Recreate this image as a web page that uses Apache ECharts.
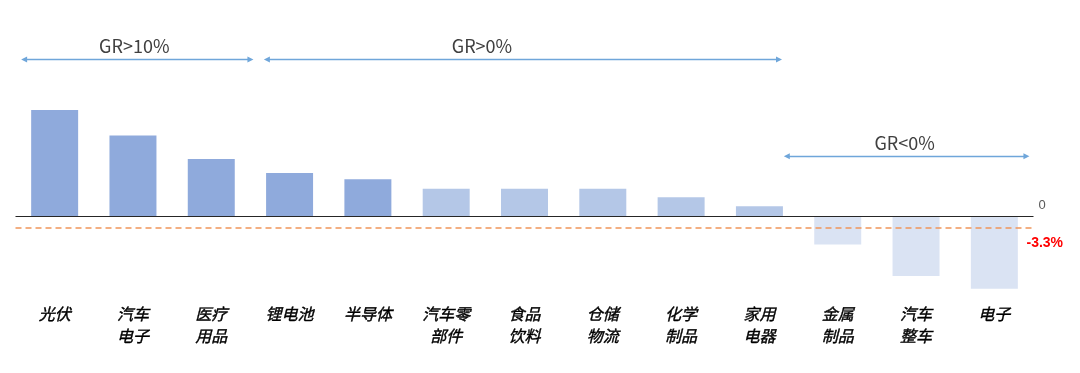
<!DOCTYPE html>
<html>
<head>
<meta charset="utf-8">
<script src="https://cdn.jsdelivr.net/npm/echarts@6/dist/echarts.min.js"></script>
<style>html,body{margin:0;padding:0;background:#fff}#c{width:1080px;height:373px}</style>
</head>
<body>
<div id="c"></div>
<script>
const categories = ['光伏','汽车\n电子','医疗\n用品','锂电池','半导体','汽车零\n部件','食品\n饮料','仓储\n物流','化学\n制品','家用\n电器','金属\n制品','汽车\n整车','电子'];
const values = [30.8, 23.4, 16.6, 12.5, 10.7, 8.0, 8.0, 8.0, 5.5, 2.9, -8.2, -17.3, -21.0];
const averageValue = -3.3;
const zeroLabel = '0';
const groupNames = ['GR>10%', 'GR>0%', 'GR<0%'];
const groupFrom = [-0.39, 2.71, 9.35];
const groupTo = [2.50, 9.25, 12.41];
const groupLevel = [45.4, 45.4, 17.4];
const groupLabelShift = [-3, -41, -2];

const chart = echarts.init(document.getElementById('c'), null, {renderer: 'canvas'});

const arrowLines = groupNames.map((name, i) => [
  {
    coord: [groupFrom[i], groupLevel[i]],
    label: {
      show: true, formatter: name, position: 'insideMiddleTop', distance: 4,
      offset: [groupLabelShift[i], 0],
      color: '#404040', fontSize: 18, fontFamily: 'Noto Sans CJK SC'
    }
  },
  { coord: [groupTo[i], groupLevel[i]] }
]);

chart.setOption({
  animation: false,
  backgroundColor: '#fff',
  grid: { left: 15.5, right: 46.5, top: 43.55, bottom: 80.7, containLabel: false, outerBoundsMode: 'none' },
  xAxis: [
    {
      type: 'category',
      data: categories,
      axisLine: { show: false, onZero: false },
      axisTick: { show: false },
      axisLabel: {
        interval: 0, margin: 11, color: '#000', fontSize: 16, lineHeight: 22,
        fontStyle: 'italic', fontFamily: 'Noto Sans CJK SC',
        textBorderColor: '#000', textBorderWidth: 0.4
      },
      splitLine: { show: false }
    },
    { type: 'value', min: -0.5, max: 12.5, show: false }
  ],
  yAxis: { type: 'value', min: -22, max: 50, show: false, splitLine: { show: false } },
  series: [
    {
      type: 'bar',
      data: values,
      barWidth: '60%',
      itemStyle: {
        color: p => p.value < 0 ? '#DAE3F3' : (p.dataIndex < 5 ? '#8FAADC' : '#B4C7E7')
      },
      markLine: {
        silent: true,
        symbol: 'none',
        data: [
          {
            yAxis: 0,
            lineStyle: { color: '#262626', width: 1.2, type: 'solid' },
            label: { show: true, position: 'end', formatter: zeroLabel, offset: [0, -11],
              color: '#595959', fontSize: 13, fontFamily: 'Liberation Sans' }
          },
          {
            yAxis: averageValue,
            lineStyle: { color: '#F0955A', width: 1.5, type: [6, 4] },
            label: { show: true, position: 'end', formatter: averageValue + '%', offset: [-12, 15],
              color: '#FF0000', fontSize: 14, fontWeight: 'bold', fontFamily: 'Liberation Sans' }
          }
        ]
      }
    },
    {
      type: 'line',
      xAxisIndex: 1,
      yAxisIndex: 0,
      data: [],
      markLine: {
        silent: true,
        symbol: ['triangle', 'triangle'],
        symbolSize: 6,
        lineStyle: { color: '#6FA6DA', width: 1.3, type: 'solid' },
        data: arrowLines
      }
    }
  ]
});
</script>
</body>
</html>
